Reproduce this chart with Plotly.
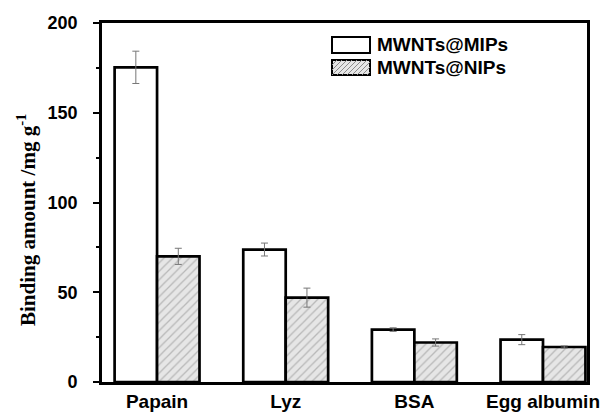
import plotly.graph_objects as go

# Binding amounts (mg/g) of four proteins on imprinted / non-imprinted materials
categories = ["Papain", "Lyz", "BSA", "Egg albumin"]
mip_values = [175.3, 73.8, 29.2, 23.6]
mip_errors = [9.0, 3.6, 1.0, 2.8]
nip_values = [70.0, 47.0, 22.0, 19.5]
nip_errors = [4.5, 5.3, 2.0, 0.6]
series_names = ["MWNTs@MIPs", "MWNTs@NIPs"]
y_ticks = [0, 50, 100, 150, 200]

W, H = 602, 412
L, R, T, B = 102, 15, 23, 30
PW, PH = W - L - R, H - T - B

SANS = "Arial, Liberation Sans, sans-serif"
SERIF = "Times New Roman, Liberation Serif, serif"
HATCH_FG, HATCH_BG = "#8a8a8a", "#e6e6e6"

positions = list(range(len(categories)))


def px_x(p):
    return (p - L) / PW


def px_y(p):
    return (H - B - p) / PH


fig = go.Figure()
fig.add_trace(go.Bar(
    x=positions, y=mip_values, name=series_names[0],
    marker=dict(color="white", line=dict(color="black", width=2.7)),
    error_y=dict(type="data", array=mip_errors, color="#777777",
                 thickness=1, width=3.5),
))
fig.add_trace(go.Bar(
    x=positions, y=nip_values, name=series_names[1],
    marker=dict(color=HATCH_BG, line=dict(color="black", width=2.7),
                pattern=dict(shape="/", fgcolor=HATCH_FG, bgcolor=HATCH_BG,
                             size=6, solidity=0.22)),
    error_y=dict(type="data", array=nip_errors, color="#777777",
                 thickness=1, width=3.5),
))

# Hand-drawn legend: wide swatches with labels
shapes = []
annotations = []
swatches = [(332, 370, 37, 53, False), (332, 370, 60, 75, True)]
for (x0, x1, y0, y1, hatched), name in zip(swatches, series_names):
    shapes.append(dict(type="rect", xref="paper", yref="paper",
                       x0=px_x(x0), x1=px_x(x1), y0=px_y(y1), y1=px_y(y0),
                       fillcolor=HATCH_BG if hatched else "white",
                       line=dict(color="black", width=2), layer="above"))
    if hatched:
        h = y1 - y0
        w = x1 - x0
        segs = []
        c = -h
        while c < w:
            t0 = max(0.0, -c / h)
            t1 = min(1.0, (w - c) / h)
            if t1 > t0:
                ax, ay = x0 + c + t0 * h, y1 - t0 * h
                bx, by = x0 + c + t1 * h, y1 - t1 * h
                segs.append(f"M{px_x(ax)},{px_y(ay)} L{px_x(bx)},{px_y(by)}")
            c += 5
        shapes.append(dict(type="path", xref="paper", yref="paper",
                           path=" ".join(segs),
                           line=dict(color=HATCH_FG, width=1), layer="above"))
    annotations.append(dict(xref="paper", yref="paper", x=px_x(375),
                            y=px_y((y0 + y1) / 2), text=name, showarrow=False,
                            xanchor="left", yanchor="middle",
                            font=dict(family=SANS, size=19, color="black",
                                      weight="bold")))

# Y-axis title
annotations.append(dict(xref="paper", yref="paper", x=px_x(27), y=px_y(220),
                        text="Binding amount /mg g<sup>-1</sup>",
                        textangle=-90, showarrow=False,
                        xanchor="center", yanchor="middle",
                        font=dict(family=SERIF, size=21, color="black",
                                  weight="bold")))

fig.update_layout(
    width=W, height=H,
    margin=dict(l=L, r=R, t=T, b=B),
    paper_bgcolor="white", plot_bgcolor="white",
    barmode="group", bargap=0.34, bargroupgap=0,
    showlegend=False,
    shapes=shapes, annotations=annotations,
    font=dict(family=SANS, color="black"),
)
fig.update_xaxes(
    range=[-0.428, 3.342], tickvals=positions, ticktext=categories,
    showline=True, linecolor="black", linewidth=2.7, mirror=True,
    ticks="", showgrid=False, zeroline=False, ticklabeloverflow="allow",
    automargin=False,
    tickfont=dict(family=SANS, size=19, color="black", weight="bold"),
)
fig.update_yaxes(
    range=[0, 200], tickvals=y_ticks,
    showline=True, linecolor="black", linewidth=2.7, mirror=True,
    ticks="outside", ticklen=6, tickwidth=2, tickcolor="black",
    minor=dict(ticks="outside", ticklen=3, tickwidth=2, tickcolor="black",
               dtick=25, showgrid=False),
    showgrid=False, zeroline=False, ticklabelstandoff=12, automargin=False,
    tickfont=dict(family=SANS, size=18, color="black", weight="bold"),
)

fig.write_html("out.html")
